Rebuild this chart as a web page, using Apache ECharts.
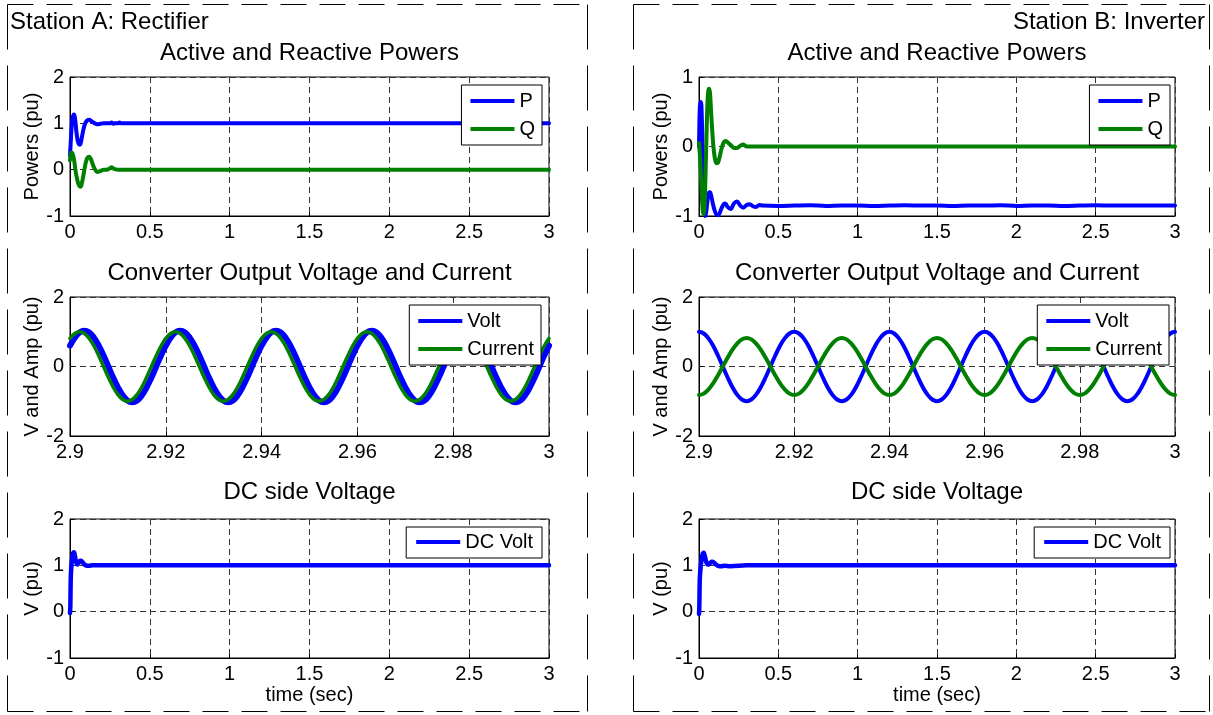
<!DOCTYPE html>
<html>
<head>
<meta charset="utf-8">
<title>Station A / Station B waveforms</title>
<script src="https://cdn.jsdelivr.net/npm/echarts@6.0.0/dist/echarts.min.js"></script>
<style>
  html, body { margin: 0; padding: 0; background: #fff; }
  #chart { width: 1213px; height: 715px; }
</style>
</head>
<body>
<div id="chart"></div>
<script>
// ---- data ----
// Station A active / reactive power (pu)
var tA = [0, 0.005, 0.01, 0.015, 0.02, 0.025, 0.03, 0.035, 0.04, 0.05, 0.06, 0.065, 0.07, 0.08, 0.09,
  0.1, 0.11, 0.12, 0.13, 0.14, 0.15, 0.17, 0.19, 0.21, 0.23, 0.25, 0.26, 0.27, 0.28, 0.3, 0.31, 0.32,
  0.35, 0.5, 0.75, 1.0, 1.3, 1.5, 2.0, 2.5, 3.0];
var pA = [0.3, 0.62, 0.92, 1.1, 1.17, 1.19, 1.14, 1.0, 0.82, 0.6, 0.54, 0.55, 0.62, 0.8, 0.95,
  1.03, 1.07, 1.08, 1.06, 1.03, 1.01, 0.98, 0.99, 1.0, 1.0, 1.0, 1.02, 0.99, 1.0, 1.0, 1.02, 1.0,
  1.0, 1.0, 1.0, 1.0, 1.0, 1.0, 1.0, 1.0, 1.0];
var qA = [0.2, 0.33, 0.37, 0.35, 0.3, 0.22, 0.1, -0.03, -0.13, -0.28, -0.36, -0.37, -0.35, -0.2, 0.0,
  0.17, 0.26, 0.28, 0.24, 0.14, 0.05, -0.05, -0.03, 0.0, 0.0, 0.03, 0.05, 0.03, 0.01, 0.0, 0.0, 0.0,
  0.0, 0.0, 0.0, 0.0, 0.0, 0.0, 0.0, 0.0, 0.0];

// Station B active / reactive power (pu)
var tB = [0, 0.005, 0.01, 0.015, 0.02, 0.025, 0.03, 0.035, 0.04, 0.045, 0.05, 0.055, 0.06, 0.065, 0.07,
  0.075, 0.08, 0.09, 0.1, 0.11, 0.12, 0.13, 0.14, 0.15, 0.16, 0.17, 0.18, 0.2, 0.22, 0.24, 0.26, 0.28,
  0.3, 0.32, 0.34, 0.36, 0.38, 0.4, 0.5, 0.6, 0.7, 0.8, 0.9, 1.0, 1.1, 1.2, 1.3, 1.4, 1.5, 1.6, 1.7,
  1.8, 1.9, 2.0, 2.1, 2.2, 2.3, 2.4, 2.5, 2.6, 2.7, 2.8, 2.9, 3.0];
var pB = [0.0, 0.55, 0.64, 0.6, 0.2, -0.35, -0.75, -0.95, -1.0, -0.95, -0.85, -0.75, -0.69, -0.66, -0.66,
  -0.69, -0.74, -0.85, -0.93, -0.98, -0.99, -0.96, -0.9, -0.85, -0.82, -0.83, -0.87, -0.9, -0.82, -0.79, -0.85, -0.88,
  -0.84, -0.83, -0.86, -0.87, -0.84, -0.85, -0.855, -0.85, -0.845, -0.855, -0.85, -0.85, -0.855, -0.85, -0.845, -0.85, -0.85, -0.855, -0.85,
  -0.85, -0.845, -0.855, -0.85, -0.85, -0.855, -0.85, -0.845, -0.85, -0.85, -0.85, -0.85, -0.85];
var qB = [0.05, -0.1, -0.3, -0.55, -0.8, -0.95, -0.97, -0.85, -0.5, -0.05, 0.4, 0.7, 0.82, 0.83, 0.75,
  0.55, 0.35, 0.02, -0.17, -0.24, -0.23, -0.15, -0.05, 0.03, 0.07, 0.08, 0.06, 0.02, -0.02, -0.02, 0.01, 0.03,
  0.0, 0.0, 0.0, 0.0, 0.0, 0.0, 0.0, 0.0, 0.0, 0.0, 0.0, 0.0, 0.0, 0.0, 0.0, 0.0, 0.0, 0.0, 0.0,
  0.0, 0.0, 0.0, 0.0, 0.0, 0.0, 0.0, 0.0, 0.0, 0.0, 0.0, 0.0, 0.0];

// converter output voltage and current, last 0.1 s, one value per ms
var tWave = [2.900, 2.901, 2.902, 2.903, 2.904, 2.905, 2.906, 2.907, 2.908, 2.909,
  2.910, 2.911, 2.912, 2.913, 2.914, 2.915, 2.916, 2.917, 2.918, 2.919,
  2.920, 2.921, 2.922, 2.923, 2.924, 2.925, 2.926, 2.927, 2.928, 2.929,
  2.930, 2.931, 2.932, 2.933, 2.934, 2.935, 2.936, 2.937, 2.938, 2.939,
  2.940, 2.941, 2.942, 2.943, 2.944, 2.945, 2.946, 2.947, 2.948, 2.949,
  2.950, 2.951, 2.952, 2.953, 2.954, 2.955, 2.956, 2.957, 2.958, 2.959,
  2.960, 2.961, 2.962, 2.963, 2.964, 2.965, 2.966, 2.967, 2.968, 2.969,
  2.970, 2.971, 2.972, 2.973, 2.974, 2.975, 2.976, 2.977, 2.978, 2.979,
  2.980, 2.981, 2.982, 2.983, 2.984, 2.985, 2.986, 2.987, 2.988, 2.989,
  2.990, 2.991, 2.992, 2.993, 2.994, 2.995, 2.996, 2.997, 2.998, 2.999, 3.000];
var voltA = [
  0.6, 0.83, 0.98, 1.03, 0.98, 0.83, 0.6, 0.32, 0.0, -0.32, -0.6, -0.83, -0.98, -1.03, -0.98, -0.83, -0.6, -0.32, 0.0, 0.32,
  0.6, 0.83, 0.98, 1.03, 0.98, 0.83, 0.6, 0.32, 0.0, -0.32, -0.6, -0.83, -0.98, -1.03, -0.98, -0.83, -0.6, -0.32, 0.0, 0.32,
  0.6, 0.83, 0.98, 1.03, 0.98, 0.83, 0.6, 0.32, 0.0, -0.32, -0.6, -0.83, -0.98, -1.03, -0.98, -0.83, -0.6, -0.32, 0.0, 0.32,
  0.6, 0.83, 0.98, 1.03, 0.98, 0.83, 0.6, 0.32, 0.0, -0.32, -0.6, -0.83, -0.98, -1.03, -0.98, -0.83, -0.6, -0.32, 0.0, 0.32,
  0.6, 0.83, 0.98, 1.03, 0.98, 0.83, 0.6, 0.32, 0.0, -0.32, -0.6, -0.83, -0.98, -1.03, -0.98, -0.83, -0.6, -0.32, 0.0, 0.32,
  0.6];
var currA = [
  0.81, 0.95, 1.0, 0.95, 0.81, 0.59, 0.31, 0.0, -0.31, -0.59, -0.81, -0.95, -1.0, -0.95, -0.81, -0.59, -0.31, 0.0, 0.31, 0.59,
  0.81, 0.95, 1.0, 0.95, 0.81, 0.59, 0.31, 0.0, -0.31, -0.59, -0.81, -0.95, -1.0, -0.95, -0.81, -0.59, -0.31, 0.0, 0.31, 0.59,
  0.81, 0.95, 1.0, 0.95, 0.81, 0.59, 0.31, 0.0, -0.31, -0.59, -0.81, -0.95, -1.0, -0.95, -0.81, -0.59, -0.31, 0.0, 0.31, 0.59,
  0.81, 0.95, 1.0, 0.95, 0.81, 0.59, 0.31, 0.0, -0.31, -0.59, -0.81, -0.95, -1.0, -0.95, -0.81, -0.59, -0.31, 0.0, 0.31, 0.59,
  0.81, 0.95, 1.0, 0.95, 0.81, 0.59, 0.31, 0.0, -0.31, -0.59, -0.81, -0.95, -1.0, -0.95, -0.81, -0.59, -0.31, 0.0, 0.31, 0.59,
  0.81];
var voltB = [
  1.0, 0.95, 0.81, 0.59, 0.31, 0.0, -0.31, -0.59, -0.81, -0.95, -1.0, -0.95, -0.81, -0.59, -0.31, 0.0, 0.31, 0.59, 0.81, 0.95,
  1.0, 0.95, 0.81, 0.59, 0.31, 0.0, -0.31, -0.59, -0.81, -0.95, -1.0, -0.95, -0.81, -0.59, -0.31, 0.0, 0.31, 0.59, 0.81, 0.95,
  1.0, 0.95, 0.81, 0.59, 0.31, 0.0, -0.31, -0.59, -0.81, -0.95, -1.0, -0.95, -0.81, -0.59, -0.31, 0.0, 0.31, 0.59, 0.81, 0.95,
  1.0, 0.95, 0.81, 0.59, 0.31, 0.0, -0.31, -0.59, -0.81, -0.95, -1.0, -0.95, -0.81, -0.59, -0.31, 0.0, 0.31, 0.59, 0.81, 0.95,
  1.0, 0.95, 0.81, 0.59, 0.31, 0.0, -0.31, -0.59, -0.81, -0.95, -1.0, -0.95, -0.81, -0.59, -0.31, 0.0, 0.31, 0.59, 0.81, 0.95,
  1.0];
var currB = [
  -0.82, -0.78, -0.66, -0.48, -0.25, 0.0, 0.25, 0.48, 0.66, 0.78, 0.82, 0.78, 0.66, 0.48, 0.25, 0.0, -0.25, -0.48, -0.66, -0.78,
  -0.82, -0.78, -0.66, -0.48, -0.25, 0.0, 0.25, 0.48, 0.66, 0.78, 0.82, 0.78, 0.66, 0.48, 0.25, 0.0, -0.25, -0.48, -0.66, -0.78,
  -0.82, -0.78, -0.66, -0.48, -0.25, 0.0, 0.25, 0.48, 0.66, 0.78, 0.82, 0.78, 0.66, 0.48, 0.25, 0.0, -0.25, -0.48, -0.66, -0.78,
  -0.82, -0.78, -0.66, -0.48, -0.25, 0.0, 0.25, 0.48, 0.66, 0.78, 0.82, 0.78, 0.66, 0.48, 0.25, 0.0, -0.25, -0.48, -0.66, -0.78,
  -0.82, -0.78, -0.66, -0.48, -0.25, 0.0, 0.25, 0.48, 0.66, 0.78, 0.82, 0.78, 0.66, 0.48, 0.25, 0.0, -0.25, -0.48, -0.66, -0.78,
  -0.82];

// DC side voltage (pu)
var tDC = [0, 0.002, 0.005, 0.01, 0.015, 0.02, 0.025, 0.03, 0.035, 0.04, 0.045, 0.05, 0.055, 0.06,
  0.065, 0.07, 0.075, 0.08, 0.085, 0.09, 0.1, 0.11, 0.12, 0.14, 0.16, 0.2, 0.3, 0.5, 1.0, 1.5, 2.0, 2.5, 3.0];
var dcA = [-0.03, 0.1, 0.75, 1.05, 1.2, 1.27, 1.28, 1.22, 1.12, 1.05, 1.02, 1.03, 1.06, 1.09,
  1.1, 1.1, 1.08, 1.06, 1.04, 1.02, 1.0, 0.99, 0.99, 1.0, 1.0, 1.0, 1.0, 1.0, 1.0, 1.0, 1.0, 1.0, 1.0];
var dcB = [-0.05, 0.1, 0.7, 0.95, 1.1, 1.2, 1.26, 1.27, 1.22, 1.15, 1.08, 1.04, 1.02, 1.02,
  1.03, 1.05, 1.07, 1.08, 1.08, 1.07, 1.04, 1.01, 0.99, 0.98, 0.99, 0.98, 1.0, 1.0, 1.0, 1.0, 1.0, 1.0, 1.0];

var titles = ["Active and Reactive Powers", "Converter Output Voltage and Current", "DC side Voltage"];
var yNames = ["Powers (pu)", "V and Amp (pu)", "V (pu)"];

// ---- layout ----
var FONT = "'Liberation Sans', Arial, Helvetica, sans-serif";
var BLUE = "#0000ff";
var GREEN = "#008000";
var cols = [{ left: 70, width: 479 }, { left: 699, width: 476 }];
var rows = [77, 297, 519];
var PLOT_H = 139;

function pairs(t, v) {
  return t.map(function (x, i) { return [x, v[i]]; });
}

var grids = [];
rows.forEach(function (top) {
  cols.forEach(function (c) {
    grids.push({ left: c.left, top: top, width: c.width, height: PLOT_H,
      show: true, borderColor: "#000", borderWidth: 1, backgroundColor: "#fff" });
  });
});

var gridLine = { show: true, lineStyle: { color: "#333", width: 1, type: [6, 4] } };

function makeX(gi, min, max, interval, name) {
  return {
    type: "value", gridIndex: gi, min: min, max: max, interval: interval,
    name: name || "", nameLocation: "middle", nameGap: 27,
    nameTextStyle: { fontFamily: FONT, fontSize: 20, color: "#000" },
    axisLine: { show: true, onZero: false, lineStyle: { color: "#000", width: 1 } },
    axisTick: { show: true, inside: true, length: 4, lineStyle: { color: "#000" } },
    axisLabel: {
      fontFamily: FONT, fontSize: 20, color: "#000", margin: 6,
      showMinLabel: true, showMaxLabel: true,
      formatter: function (v) { return String(+v.toFixed(2)); },
    },
    splitLine: gridLine,
  };
}

function makeY(gi, min, max, interval, name) {
  return {
    type: "value", gridIndex: gi, min: min, max: max, interval: interval,
    name: name, nameLocation: "middle", nameGap: 26, nameRotate: 90,
    nameTextStyle: { fontFamily: FONT, fontSize: 20, color: "#000" },
    axisLine: { show: true, onZero: false, lineStyle: { color: "#000", width: 1 } },
    axisTick: { show: true, inside: true, length: 4, lineStyle: { color: "#000" } },
    axisLabel: { fontFamily: FONT, fontSize: 20, color: "#000", margin: 6,
      showMinLabel: true, showMaxLabel: true },
    splitLine: gridLine,
  };
}

var xAxes = [
  makeX(0, 0, 3, 0.5), makeX(1, 0, 3, 0.5),
  makeX(2, 2.9, 3, 0.02), makeX(3, 2.9, 3, 0.02),
  makeX(4, 0, 3, 0.5, "time (sec)"), makeX(5, 0, 3, 0.5, "time (sec)"),
];
var yAxes = [
  makeY(0, -1, 2, 1, yNames[0]), makeY(1, -1, 1, 1, yNames[0]),
  makeY(2, -2, 2, 2, yNames[1]), makeY(3, -2, 2, 2, yNames[1]),
  makeY(4, -1, 2, 1, yNames[2]), makeY(5, -1, 2, 1, yNames[2]),
];

function line(name, gi, data, color, width, smooth) {
  return {
    name: name, type: "line", xAxisIndex: gi, yAxisIndex: gi, data: data,
    showSymbol: false, symbol: "none", smooth: smooth, clip: true,
    itemStyle: { color: color },
    lineStyle: { color: color, width: width, cap: "round", join: "round" },
    emphasis: { disabled: true },
  };
}

var series = [
  line("P", 0, pairs(tA, pA), BLUE, 4, 0.3),
  line("Q", 0, pairs(tA, qA), GREEN, 4, 0.3),
  line("P", 1, pairs(tB, pB), BLUE, 4, 0.3),
  line("Q", 1, pairs(tB, qB), GREEN, 4, 0.3),
  line("Volt", 2, pairs(tWave, voltA), BLUE, 6, 0.4),
  line("Current", 2, pairs(tWave, currA), GREEN, 3.5, 0.4),
  line("Volt", 3, pairs(tWave, voltB), BLUE, 4, 0.4),
  line("Current", 3, pairs(tWave, currB), GREEN, 4, 0.4),
  line("DC Volt", 4, pairs(tDC, dcA), BLUE, 4.5, 0.3),
  line("DC Volt", 5, pairs(tDC, dcB), BLUE, 4.5, 0.3),
];

function legendBox(names, right, top, pad) {
  return {
    data: names, orient: "vertical", right: right, top: top,
    padding: pad, itemGap: 8, itemWidth: 44, itemHeight: 4, icon: "rect",
    selectedMode: false, backgroundColor: "#fff", borderColor: "#000", borderWidth: 1,
    textStyle: { fontFamily: FONT, fontSize: 20, color: "#000" },
  };
}

var legends = [
  legendBox(["P", "Q"], 671, 85, [6, 7, 6, 9]),
  legendBox(["P", "Q"], 43, 85, [6, 7, 6, 9]),
  legendBox(["Volt", "Current"], 672, 305, [6, 7, 6, 9]),
  legendBox(["Volt", "Current"], 44, 305, [6, 7, 6, 9]),
  legendBox(["DC Volt"], 671, 527, [5, 9, 6, 10]),
  legendBox(["DC Volt"], 43, 527, [5, 9, 6, 10]),
];

// dashed frames around each station, titles above each plot
function dashed(x1, y1, x2, y2, dash) {
  return { type: "line", silent: true, z: 0,
    shape: { x1: x1, y1: y1, x2: x2, y2: y2 },
    style: { stroke: "#000", lineWidth: 1, lineDash: dash } };
}
function frame(x1, y1, x2, y2) {
  var h = [26, 13], v = [45, 16];
  return [dashed(x1, y1, x2, y1, h), dashed(x1, y2, x2, y2, h),
          dashed(x1, y1, x1, y2, v), dashed(x2, y1, x2, y2, v)];
}
function label(text, x, y, align) {
  return { type: "text", silent: true, x: x, y: y,
    style: { text: text, fill: "#000", font: "24px " + FONT, align: align, verticalAlign: "middle" } };
}

var titleY = [53, 273, 492];
var graphics = [].concat(frame(7.5, 4.5, 587.5, 711.5), frame(633.5, 4.5, 1209.5, 711.5));
graphics.push(label("Station A: Rectifier", 10, 22, "left"));
graphics.push(label("Station B: Inverter", 1205, 22, "right"));
titleY.forEach(function (y, r) {
  cols.forEach(function (c) {
    graphics.push(label(titles[r], c.left + c.width / 2, y, "center"));
  });
});

var chart = echarts.init(document.getElementById("chart"), null, { renderer: "canvas" });
chart.setOption({
  animation: false,
  backgroundColor: "#fff",
  grid: grids,
  xAxis: xAxes,
  yAxis: yAxes,
  legend: legends,
  series: series,
  graphic: graphics,
});
</script>
</body>
</html>
